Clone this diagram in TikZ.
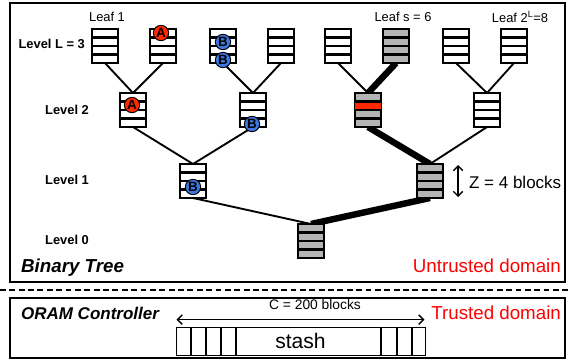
\documentclass[tikz,border=0pt]{standalone}
\usepackage{fontspec}
\setmainfont{Liberation Sans}
\usepackage{tikz}
\usetikzlibrary{arrows.meta,calc}
\definecolor{slotgray}{RGB}{180,180,180}
\definecolor{hitred}{RGB}{255,40,0}
\definecolor{blkblue}{RGB}{60,120,225}
\pgfdeclarelayer{background}
\pgfsetlayers{background,main}
\tikzset{
    Bucket/.style = {draw,line width=1.9pt,fill=#1,inner sep=0pt,outer sep=0pt,
        minimum width=0.76cm,minimum height=1.02cm},
    Bucket/.default = white,
    Edge/.style = {line width=1.6pt},
    Path/.style = {line width=5.5pt},
    Blk/.style = {circle,draw,line width=0.8pt,fill=#1,inner sep=0pt,minimum size=0.46cm,
        font=\bfseries\fontsize{11.5}{12}\selectfont},
    Lvl/.style = {font=\bfseries\fontsize{11}{13}\selectfont},
    Lbl/.style = {font=\fontsize{11}{13}\selectfont},
    Title/.style = {font=\bfseries\itshape\fontsize{#1}{18}\selectfont},
    Domain/.style = {text=red,font=\fontsize{16}{18}\selectfont},
    Tip/.style = {{Straight Barb[length=4pt,width=8pt]}-{Straight Barb[length=4pt,width=8pt]}}
}
\begin{document}
\begin{tikzpicture}[x=0.03cm,y=-0.03cm]
        \useasboundingbox (0,0) rectangle (569,360);
        % buckets
        \foreach \i/\x in {1/105,2/163,3/223,4/281,5/338,7/456,8/514}
            {\node[Bucket] (L3-\i) at (\x,46) {};}
        \node[Bucket=slotgray] (L3-6) at (396,46) {};
        \node[Bucket] (L2-1) at (133,110) {};
        \node[Bucket] (L2-2) at (253,110) {};
        \node[Bucket=slotgray] (L2-3) at (368,110) {};
        \node[Bucket] (L2-4) at (487,110) {};
        \node[Bucket] (L1-1) at (193,181) {};
        \node[Bucket=slotgray] (L1-2) at (430,181) {};
        \node[Bucket=slotgray] (L0) at (311,241) {};
        \fill[hitred] ($(L2-3.north west)!0.25!(L2-3.south west)$) rectangle ($(L2-3.north east)!0.5!(L2-3.south east)$);
        \foreach \n in {L3-1,L3-2,L3-3,L3-4,L3-5,L3-6,L3-7,L3-8,L2-1,L2-2,L2-3,L2-4,L1-1,L1-2,L0}
            {\foreach \k in {1,2,3}
                {\draw[line width=1.9pt] ($(\n.north west)!\k/4!(\n.south west)$) -- ($(\n.north east)!\k/4!(\n.south east)$);}}
        \begin{pgfonlayer}{background}
        \foreach \c/\p/\s in {L3-1/L2-1/Edge,L3-2/L2-1/Edge,L3-3/L2-2/Edge,L3-4/L2-2/Edge,
                L3-5/L2-3/Edge,L3-6/L2-3/Path,L3-7/L2-4/Edge,L3-8/L2-4/Edge,
                L2-1/L1-1/Edge,L2-2/L1-1/Edge,L2-3/L1-2/Path,L2-4/L1-2/Edge,
                L1-1/L0/Edge,L1-2/L0/Path}
            {\draw[\s] (\c.south) -- (\p.north);}
        \end{pgfonlayer}
        % blocks
        \node[Blk=hitred] (A3) at (161,33) {A};
        \node[Blk=blkblue] (B3a) at (223,42) {B};
        \node[Blk=blkblue] (B3b) at (223,60) {B};
        \node[Blk=hitred] (A2) at (132,105) {A};
        \node[Blk=blkblue] (B2) at (252,124) {B};
        \node[Blk=blkblue] (B1) at (193,187) {B};
        % labels
        \node[Lbl] (leaf1) at (107,17) {Leaf 1};
        \node[Lbl] (leafs) at (403,17) {Leaf s = 6};
        \node[Lbl] (leafn) at (520,17) {Leaf 2\textsuperscript{L}=8};
        \node[Lvl,anchor=east] (lvl3) at (89,44) {Level L = 3};
        \node[Lvl,anchor=west] (lvl2) at (41,110) {Level 2};
        \node[Lvl,anchor=west] (lvl1) at (41,180) {Level 1};
        \node[Lvl,anchor=west] (lvl0) at (41,240) {Level 0};
        \coordinate (ztop) at (458,165);
        \coordinate (zbot) at (458,197);
        \draw[Tip,line width=1.2pt] (ztop) -- (zbot);
        \node[anchor=west,font=\fontsize{14.5}{16}\selectfont] (zlbl) at (465,182) {Z = 4 blocks};
        \draw[line width=2.4pt] (10,3) rectangle (565,282);
        \node[Title=16,anchor=west] (tree) at (17,268) {Binary Tree};
        \node[Domain,anchor=east] (untr) at (565,266) {Untrusted domain};
        \draw[line width=1.6pt,dash pattern=on 5pt off 3pt] (0,290) -- (569,290);
        % controller
        \draw[line width=2.4pt] (10,298) rectangle (565,358);
        \node[Title=14.5,anchor=west] (oram) at (17,313) {ORAM Controller};
        \node[Domain,anchor=east] (trus) at (565,313) {Trusted domain};
        \node[draw,line width=0.7pt,minimum width=7.47cm,minimum height=0.84cm,inner sep=0pt,
            font=\fontsize{18}{20}\selectfont] (stash) at (300.5,341) {stash};
        \foreach \x in {191,206,221,236,381,397,412}
            {\draw[line width=1.3pt] (\x,0 |- stash.north) -- (\x,0 |- stash.south);}
        \coordinate (cl) at ($(stash.north west)+(1,-7)$);
        \coordinate (cr) at ($(stash.north east)+(-1,-7)$);
        \draw[Tip,line width=1.2pt] (cl) -- (cr);
        \node[font=\fontsize{11.8}{13}\selectfont] (clbl) at (315,305) {C = 200 blocks};
\end{tikzpicture}
\end{document}
